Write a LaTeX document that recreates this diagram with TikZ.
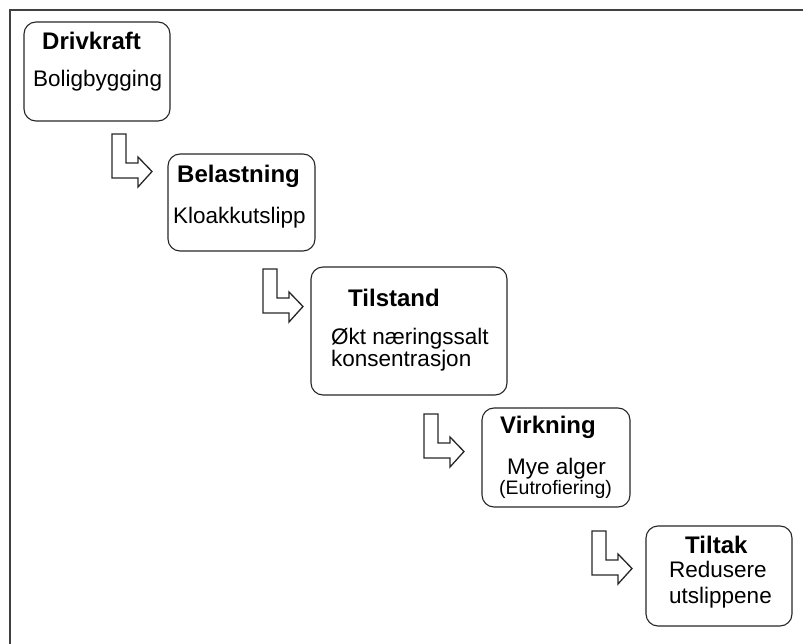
\documentclass[tikz,border=0pt]{standalone}
\usepackage{fontspec}
\setmainfont{Liberation Sans}
\begin{document}
\begin{tikzpicture}[x=1pt,y=-1pt,
  stage/.style={draw=black!85, line width=1.1pt, rounded corners=12pt},
  title/.style={anchor=base west, inner sep=0pt, font=\fontsize{24}{28}\selectfont\bfseries},
  body/.style={anchor=base west, inner sep=0pt, font=\fontsize{22.5}{26}\selectfont},
  small/.style={anchor=base west, inner sep=0pt, font=\fontsize{19.5}{24}\selectfont},
  larrow/.pic={\draw[line width=1.3pt, black!85, line join=miter]
     (0,0) -- (14,0) -- (14,29) -- (26,29) -- (26,23) -- (40,37.5)
     -- (26,53) -- (26,44) -- (0,44) -- cycle;}
]
\useasboundingbox (0,0) rectangle (803,644);
% outer frame (only top and left edges fall inside the page)
\draw[line width=2pt, black!75] (803,10) -- (10,10) -- (10,644);

% stage boxes
\draw[stage] (24,22) rectangle (170,121);
\node[inner sep=0pt] (drivkraft) at (97,71.5) {};
\draw[stage] (168,154) rectangle (315,251);
\node[inner sep=0pt] (belastning) at (241.5,202.5) {};
\draw[stage] (311,267) rectangle (507,395);
\node[inner sep=0pt] (tilstand) at (409,331) {};
\draw[stage] (482,408) rectangle (630,507);
\node[inner sep=0pt] (virkning) at (556,457.5) {};
\draw[stage] (646,526) rectangle (792,626);
\node[inner sep=0pt] (tiltak) at (719,576) {};

% texts
\node[title] (t1) at (42,50) {Drivkraft};
\node[body]  (b1) at (33,87) {Boligbygging};
\node[title] (t2) at (177,183) {Belastning};
\node[body]  (b2) at (173,224) {Kloakkutslipp};
\node[title] (t3) at (348,307) {Tilstand};
\node[body]  (b3) at (331,344) {Økt næringssalt};
\node[body]  (b3b) at (331,366) {konsentrasjon};
\node[title] (t4) at (500,433) {Virkning};
\node[body]  (b4) at (507,474) {Mye alger};
\node[small] (b4b) at (499,494) {(Eutrofiering)};
\node[title] (t5) at (685,553) {Tiltak};
\node[body]  (b5) at (669,577) {Redusere};
\node[body]  (b5b) at (669,603) {utslippene};

% step arrows between stages
\pic at (112,134) {larrow};
\pic at (263,269) {larrow};
\pic at (424,414) {larrow};
\pic at (592,531) {larrow};
\end{tikzpicture}
\end{document}
